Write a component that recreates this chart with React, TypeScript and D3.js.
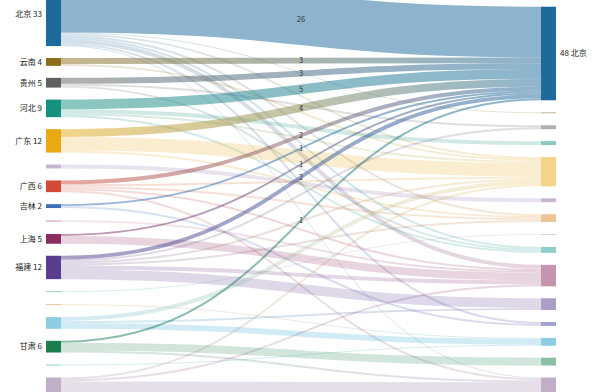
import React from 'react';
import * as d3 from 'd3';

// ---- data ----
const leftNodes = ['北京', '云南', '贵州', '河北', '广东', '湖北', '广西', '吉林', '湖南', '上海', '福建', '天津', '浙江', '山东', '甘肃', '江西', '辽宁'];
const rightNodes = ['北京', '云南', '贵州', '河北', '广东', '湖北', '浙江', '湖南', '天津', '上海', '福建', '江苏', '山东', '甘肃', '辽宁'];

const flows: [string, string, number][] = [
  ['北京', '北京', 26], ['云南', '北京', 3], ['贵州', '北京', 3], ['河北', '北京', 5], ['广东', '北京', 4],
  ['广西', '北京', 2], ['吉林', '北京', 1], ['上海', '北京', 1], ['福建', '北京', 2], ['甘肃', '北京', 1],
  ['北京', '云南', 0.5], ['北京', '广东', 1], ['北京', '浙江', 1], ['北京', '天津', 1], ['北京', '上海', 2], ['北京', '江苏', 1], ['北京', '辽宁', 0.5],
  ['云南', '广东', 1],
  ['贵州', '贵州', 1], ['贵州', '天津', 1],
  ['河北', '河北', 2], ['河北', '广东', 1], ['河北', '天津', 1],
  ['广东', '广东', 7], ['广东', '浙江', 1],
  ['湖北', '湖北', 2],
  ['广西', '浙江', 1], ['广西', '广东', 1], ['广西', '上海', 1], ['广西', '辽宁', 1],
  ['吉林', '江苏', 1],
  ['湖南', '上海', 1],
  ['上海', '上海', 4],
  ['福建', '福建', 5], ['福建', '上海', 2], ['福建', '广东', 1], ['福建', '贵州', 1], ['福建', '浙江', 1],
  ['天津', '湖南', 0.5],
  ['浙江', '山东', 0.5],
  ['山东', '广东', 2], ['山东', '山东', 3], ['山东', '福建', 1],
  ['甘肃', '甘肃', 4], ['甘肃', '辽宁', 1],
  ['江西', '山东', 0.5],
  ['辽宁', '上海', 1], ['辽宁', '广东', 1], ['辽宁', '辽宁', 6],
];

const provinceColors: Record<string, string> = {
  北京: '#1e6a9c', 云南: '#8b6c1c', 贵州: '#606060', 河北: '#16907f', 广东: '#e8a913',
  湖北: '#8f6fa8', 广西: '#d24a38', 吉林: '#3b6fb6', 湖南: '#d08fa6', 上海: '#8b2c62',
  福建: '#5a3d8e', 天津: '#22a093', 浙江: '#d98a2b', 山东: '#1b9bc8', 甘肃: '#1a7f4c',
  江西: '#2a9d8a', 辽宁: '#826090', 江苏: '#4848a4',
};

const focusTarget = '北京';

// ---- layout ----
const W = 600, H = 392;
const nodeWidth = 15;
const pad = 12;
const leftTop = -18.3;
const rightTop = 6.7;

type N = { name: string; side: 0 | 1; value: number; y0: number; y1: number; x0: number; x1: number; idx: number; hot: boolean };
type L = { s: N; t: N; value: number; sy: number; ty: number; w: number; hot: boolean };

function layout() {
  const x = d3.scaleLinear().domain([0, 1]).range([46, 541]);
  const total = d3.sum(flows, (f) => f[2]);
  const h = d3.scaleLinear().domain([0, total]).range([0, total * 1.95]);

  const mk = (names: string[], side: 0 | 1): N[] =>
    names.map((name, idx) => ({
      name, side, idx,
      value: d3.sum(flows.filter((f) => f[side] === name), (f) => f[2]),
      y0: 0, y1: 0, x0: x(side), x1: x(side) + nodeWidth,
      hot: side === 1 ? name === focusTarget : flows.some((f) => f[0] === name && f[1] === focusTarget),
    }));
  const L0 = mk(leftNodes, 0);
  const R0 = mk(rightNodes, 1);
  const stack = (ns: N[], top: number) => {
    let y = top;
    ns.forEach((n) => { n.y0 = y; n.y1 = y + h(n.value); y = n.y1 + pad; });
  };
  stack(L0, leftTop);
  stack(R0, rightTop);
  const byL = new Map(L0.map((n) => [n.name, n]));
  const byR = new Map(R0.map((n) => [n.name, n]));
  const links: L[] = flows.map(([a, b, v]) => ({
    s: byL.get(a)!, t: byR.get(b)!, value: v, sy: 0, ty: 0, w: h(v), hot: b === focusTarget,
  }));
  L0.forEach((n) => {
    let y = n.y0;
    links.filter((l) => l.s === n).sort((p, q) => p.t.idx - q.t.idx).forEach((l) => { l.sy = y + l.w / 2; y += l.w; });
  });
  R0.forEach((n) => {
    let y = n.y0;
    links.filter((l) => l.t === n).sort((p, q) => p.s.idx - q.s.idx).forEach((l) => { l.ty = y + l.w / 2; y += l.w; });
  });
  return { L0, R0, links };
}

export default function App() {
  const { L0, R0, links } = layout();
  const linkGen = d3.linkHorizontal<any, [number, number]>().source((d: any) => d[0]).target((d: any) => d[1]);
  const ordered = [...links.filter((l) => !l.hot), ...links.filter((l) => l.hot)];
  const font = '"Noto Sans CJK SC", "Noto Sans", sans-serif';
  return (
    <svg width={W} height={H} style={{ position: 'absolute', left: 0, top: 0, background: '#fff' }} fontFamily={font}>
      <defs>
        {ordered.map((l, i) => (
          <linearGradient key={i} id={`g${i}`} gradientUnits="userSpaceOnUse" x1={l.s.x1} x2={l.t.x0} y1={0} y2={0}>
            <stop offset="0%" stopColor={provinceColors[l.s.name]} />
            <stop offset="100%" stopColor={provinceColors[l.t.name]} />
          </linearGradient>
        ))}
      </defs>
      <g fill="none">
        {ordered.map((l, i) => (
          <path key={i} d={linkGen([[l.s.x1, l.sy], [l.t.x0, l.ty]] as any) || ''}
            stroke={`url(#g${i})`} strokeWidth={Math.max(0.8, l.w)} strokeOpacity={l.hot ? 0.5 : 0.2} />
        ))}
      </g>
      <g>
        {[...L0, ...R0].map((n, i) => (
          <rect key={i} x={n.x0} y={n.y0} width={nodeWidth} height={Math.max(1, n.y1 - n.y0)}
            fill={provinceColors[n.name]} fillOpacity={n.hot ? 1 : 0.5} />
        ))}
      </g>
      <g fontSize={8} fill="#222">
        {L0.filter((n) => n.hot).map((n, i) => (
          <text key={i} x={n.x0 - 4} y={(n.y0 + n.y1) / 2} dy="0.35em" textAnchor="end">{`${n.name} ${n.value}`}</text>
        ))}
        {R0.filter((n) => n.hot).map((n, i) => (
          <text key={i} x={n.x1 + 4} y={(n.y0 + n.y1) / 2} dy="0.35em" textAnchor="start">{`${n.value} ${n.name}`}</text>
        ))}
      </g>
      <g fontSize={7.5} fill="#333" textAnchor="middle">
        {links.filter((l) => l.hot).map((l, i) => (
          <text key={i} x={(l.s.x1 + l.t.x0) / 2} y={(l.sy + l.ty) / 2} dy="0.35em">{l.value}</text>
        ))}
      </g>
    </svg>
  );
}
